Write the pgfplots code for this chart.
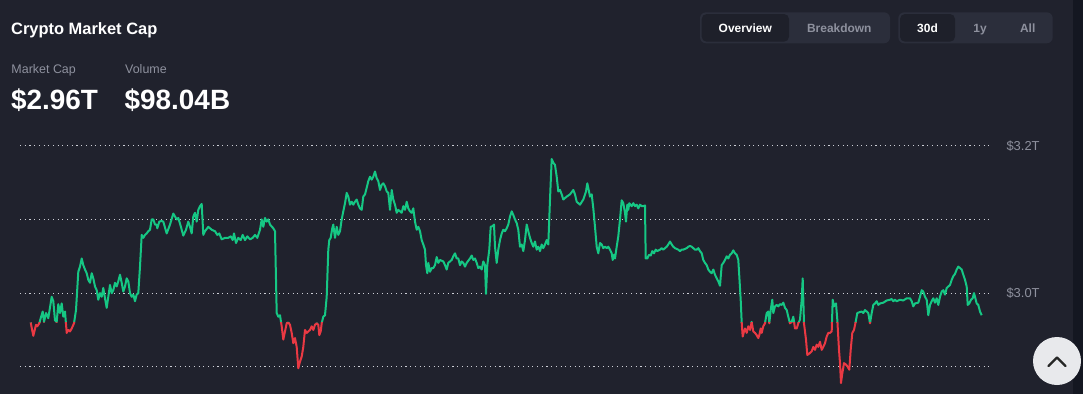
\documentclass[border=0pt]{standalone}
\usepackage{pgfplots}
\pgfplotsset{compat=1.18}
\usepackage{pgfplotstable}
\usepackage{fontspec}
\setmainfont{Liberation Sans}
\definecolor{bgc}{RGB}{32,34,45}
\definecolor{stripc}{RGB}{20,23,33}
\definecolor{btnouter}{RGB}{43,46,59}
\definecolor{btninner}{RGB}{30,32,42}
\definecolor{graytxt}{RGB}{142,145,158}
\definecolor{gridc}{RGB}{205,207,214}
\definecolor{upc}{RGB}{22,199,132}
\definecolor{downc}{RGB}{234,57,67}
\definecolor{circc}{RGB}{232,233,236}

\pgfplotstableread{
x y
30.7 2.960
33.3 2.942
36.0 2.957
37.3 2.955
39.3 2.959
40.7 2.966
42.7 2.975
44.0 2.961
46.0 2.973
48.3 2.966
51.7 2.995
53.3 2.989
55.0 2.963
56.7 2.961
58.3 2.985
60.0 2.973
61.7 2.986
63.3 2.968
65.0 2.975
66.7 2.946
68.3 2.950
70.0 2.948
71.7 2.952
74.0 2.959
76.0 2.977
78.3 3.029
80.0 3.036
81.7 3.047
83.3 3.038
85.0 3.032
86.7 3.027
88.3 3.018
90.0 3.014
91.7 3.027
93.3 3.020
95.0 3.009
96.7 3.004
98.3 2.991
100.0 3.000
101.7 2.995
103.3 3.007
105.0 2.993
106.7 2.980
108.3 2.995
110.0 3.011
111.7 3.000
113.3 3.004
115.0 3.014
116.7 3.009
118.3 3.016
120.0 3.025
121.7 3.014
123.3 3.002
125.0 3.009
126.7 3.020
128.3 3.016
130.0 3.000
131.7 2.995
133.3 2.998
135.0 2.989
136.7 2.998
138.3 3.000
140.0 3.036
141.7 3.079
143.3 3.075
145.0 3.079
146.7 3.081
148.3 3.084
150.0 3.086
151.7 3.100
153.3 3.100
155.0 3.093
156.7 3.093
157.3 3.088
159.3 3.097
161.7 3.098
163.3 3.097
166.7 3.081
170.0 3.093
173.3 3.108
176.7 3.100
178.3 3.102
180.7 3.091
183.3 3.078
186.0 3.086
188.3 3.097
190.0 3.090
191.7 3.081
193.3 3.104
195.0 3.109
196.7 3.097
198.3 3.113
200.0 3.118
201.7 3.121
203.3 3.079
205.0 3.084
208.3 3.090
211.7 3.086
215.0 3.084
217.3 3.079
219.3 3.081
221.7 3.073
225.0 3.075
228.3 3.075
230.7 3.077
232.7 3.072
234.0 3.081
236.0 3.068
238.3 3.075
240.7 3.072
242.7 3.079
245.0 3.072
247.3 3.077
250.0 3.073
252.7 3.075
255.0 3.079
257.3 3.075
260.0 3.086
261.7 3.100
263.3 3.090
265.0 3.102
266.7 3.097
268.3 3.100
270.0 3.093
273.3 3.088
275.0 3.084
276.7 2.973
278.3 2.968
280.0 2.970
281.7 2.955
283.3 2.937
285.0 2.948
286.7 2.959
288.3 2.960
290.0 2.957
291.7 2.946
293.3 2.932
295.0 2.939
296.7 2.927
298.3 2.898
300.0 2.907
301.7 2.914
303.3 2.927
305.0 2.950
306.7 2.946
308.3 2.948
310.0 2.950
311.7 2.955
313.3 2.950
315.0 2.957
316.7 2.959
318.3 2.957
319.3 2.943
320.7 2.948
321.7 2.959
323.3 2.968
325.0 2.970
326.7 2.995
328.3 3.059
329.3 3.072
330.7 3.075
332.3 3.088
333.3 3.093
335.0 3.075
336.7 3.090
338.3 3.079
340.0 3.084
341.7 3.100
343.3 3.111
345.0 3.122
346.7 3.136
348.3 3.131
350.0 3.120
351.7 3.124
353.3 3.120
355.0 3.124
356.7 3.127
358.3 3.120
360.0 3.115
361.7 3.113
363.3 3.131
365.0 3.134
366.7 3.143
368.3 3.152
370.0 3.158
371.7 3.154
373.3 3.158
375.0 3.165
376.7 3.156
378.3 3.152
380.0 3.140
381.7 3.147
383.3 3.149
385.0 3.145
386.7 3.138
388.3 3.136
390.0 3.113
391.7 3.140
393.3 3.127
395.0 3.120
396.7 3.109
398.3 3.113
400.0 3.111
401.7 3.109
403.3 3.118
405.0 3.113
406.7 3.124
408.3 3.115
410.0 3.111
411.7 3.109
413.3 3.115
415.0 3.097
416.7 3.086
418.3 3.090
420.0 3.084
421.7 3.072
423.3 3.066
425.0 3.059
426.0 3.038
427.3 3.027
428.3 3.041
430.0 3.029
431.7 3.034
433.3 3.034
435.0 3.038
436.7 3.049
438.3 3.041
440.0 3.045
443.3 3.043
445.0 3.038
446.7 3.032
448.3 3.041
451.7 3.045
453.3 3.050
455.0 3.054
456.7 3.047
458.3 3.047
460.0 3.038
461.7 3.043
463.3 3.041
465.0 3.036
466.7 3.041
470.0 3.047
471.7 3.051
473.3 3.045
475.0 3.047
476.7 3.041
478.3 3.034
480.0 3.036
481.7 3.032
483.3 3.043
485.0 3.038
486.0 2.999
487.3 3.038
489.3 3.059
490.7 3.090
492.7 3.091
494.0 3.093
495.0 3.063
496.7 3.041
498.3 3.059
500.0 3.072
501.7 3.081
503.3 3.086
505.0 3.084
506.7 3.088
508.3 3.093
510.0 3.104
511.7 3.111
513.3 3.106
515.0 3.100
516.7 3.095
518.3 3.086
520.0 3.063
521.7 3.066
523.3 3.057
525.0 3.072
526.7 3.093
528.3 3.084
530.0 3.075
531.7 3.068
533.3 3.063
535.0 3.070
536.7 3.059
538.3 3.063
540.0 3.057
541.7 3.066
543.3 3.061
545.0 3.066
546.7 3.072
548.3 3.066
550.0 3.127
551.7 3.182
553.3 3.177
555.0 3.174
556.7 3.158
558.3 3.138
560.0 3.140
561.7 3.134
563.3 3.127
566.7 3.131
570.0 3.134
573.3 3.140
575.0 3.134
576.7 3.124
580.0 3.120
583.3 3.127
586.0 3.138
587.3 3.149
589.0 3.138
590.0 3.131
591.7 3.134
593.3 3.115
595.0 3.090
596.7 3.063
598.3 3.054
600.0 3.068
601.7 3.066
603.3 3.061
605.0 3.063
606.7 3.061
608.3 3.063
610.0 3.059
611.7 3.054
612.7 3.045
614.0 3.052
615.0 3.047
616.7 3.063
618.3 3.077
620.0 3.100
621.7 3.126
623.3 3.122
625.0 3.109
626.0 3.097
627.3 3.120
628.3 3.113
629.3 3.122
631.7 3.118
633.3 3.122
635.0 3.118
636.7 3.120
638.3 3.115
640.0 3.120
641.7 3.118
643.3 3.118
645.0 3.119
645.7 3.047
647.3 3.047
649.0 3.052
650.7 3.051
652.3 3.057
654.0 3.054
655.7 3.059
657.3 3.057
660.0 3.059
661.7 3.061
663.3 3.059
665.0 3.061
666.7 3.063
668.3 3.066
670.0 3.070
671.7 3.066
673.3 3.063
675.0 3.061
676.7 3.060
678.3 3.059
680.0 3.057
681.7 3.059
683.3 3.059
685.0 3.060
686.7 3.061
688.3 3.063
690.0 3.064
691.7 3.063
693.3 3.061
695.0 3.059
696.7 3.059
698.3 3.061
700.0 3.057
701.7 3.054
703.3 3.045
705.0 3.041
706.7 3.038
708.3 3.032
710.0 3.029
711.7 3.027
713.3 3.032
715.0 3.025
716.7 3.020
718.3 3.016
720.0 3.010
721.7 3.038
723.3 3.041
725.0 3.045
726.7 3.050
728.3 3.047
730.0 3.052
731.7 3.054
733.3 3.058
735.0 3.054
736.7 3.052
738.3 3.045
739.3 3.023
740.7 2.991
741.7 2.960
742.7 2.941
744.0 2.948
745.0 2.952
746.7 2.946
748.3 2.955
750.0 2.950
751.7 2.961
753.3 2.948
755.0 2.946
756.7 2.943
758.3 2.939
759.3 2.943
760.7 2.952
761.7 2.946
763.3 2.955
765.0 2.959
766.7 2.973
768.3 2.975
769.3 2.959
770.7 2.977
772.3 2.991
773.3 2.973
775.0 2.982
776.7 2.984
778.3 2.982
780.0 2.985
781.7 2.984
783.3 2.987
785.0 2.980
786.7 2.977
788.3 2.968
790.0 2.959
791.7 2.961
793.3 2.968
795.0 2.952
796.7 2.952
798.3 2.959
800.0 2.964
801.7 2.991
802.7 3.020
804.0 2.959
806.0 2.937
807.3 2.916
809.3 2.918
811.7 2.921
813.3 2.927
815.0 2.923
816.7 2.930
818.3 2.927
820.0 2.934
821.7 2.923
823.3 2.927
825.0 2.932
826.7 2.941
828.3 2.946
830.0 2.946
831.7 2.948
832.7 2.991
834.0 2.982
836.0 2.986
837.3 2.964
839.0 2.923
840.0 2.905
841.0 2.878
842.3 2.891
844.0 2.905
846.0 2.903
847.7 2.900
849.3 2.896
850.7 2.923
852.3 2.946
854.0 2.950
855.7 2.961
857.3 2.973
859.3 2.974
861.7 2.975
863.3 2.973
865.0 2.977
866.7 2.975
868.3 2.973
870.0 2.959
871.7 2.973
873.3 2.984
875.0 2.986
876.7 2.989
878.3 2.984
880.0 2.986
883.3 2.987
886.7 2.990
890.0 2.991
891.7 2.992
893.3 2.989
895.0 2.991
896.7 2.989
900.0 2.991
903.3 2.990
906.7 2.993
910.0 2.993
911.7 2.989
913.3 2.982
915.0 2.986
918.3 2.987
920.0 2.995
921.7 3.004
923.3 3.002
925.0 2.995
926.7 2.991
928.3 2.970
930.0 2.984
931.7 2.989
933.3 2.993
935.0 2.987
936.7 2.993
938.3 2.984
940.0 2.995
941.7 3.002
943.3 3.004
945.0 2.998
946.7 3.007
948.3 3.009
950.0 3.011
951.7 3.018
953.3 3.023
955.0 3.026
956.7 3.032
958.3 3.036
960.0 3.034
961.7 3.032
963.3 3.025
965.0 3.018
966.7 3.009
967.7 2.984
969.3 2.986
971.0 2.991
972.7 2.993
974.0 3.000
975.0 2.995
976.7 2.986
978.3 2.984
980.0 2.975
981.7 2.970
}\mcap

\begin{document}
\begin{tikzpicture}
\useasboundingbox (0,0) rectangle (1083bp,-394bp);
\fill[bgc] (0,0) rectangle (1083bp,-394bp);
\fill[stripc] (1073bp,0) rectangle (1083bp,-394bp);

% header texts
\node[anchor=base west, inner sep=0, text=white, font=\fontsize{16.5}{19}\selectfont\bfseries] at (11bp,-34.3bp) {Crypto Market Cap};
\node[anchor=base west, inner sep=0, text=graytxt, font=\fontsize{12.5}{15}\selectfont] at (11.3bp,-73.7bp) {Market Cap};
\node[anchor=base west, inner sep=0, text=graytxt, font=\fontsize{12.5}{15}\selectfont] at (125bp,-73.7bp) {Volume};
\node[anchor=base west, inner sep=0, text=white, font=\fontsize{28}{32}\selectfont\bfseries] at (11bp,-109bp) {\$2.96T};
\node[anchor=base west, inner sep=0, text=white, font=\fontsize{28}{32}\selectfont\bfseries] at (124.5bp,-109bp) {\$98.04B};

% buttons
\fill[btnouter, rounded corners=6bp] (700bp,-12.3bp) rectangle (890bp,-43.3bp);
\fill[btninner, rounded corners=5bp] (701.7bp,-14bp) rectangle (789bp,-41.7bp);
\fill[btnouter, rounded corners=6bp] (898.3bp,-12.3bp) rectangle (1052.7bp,-43.3bp);
\fill[btninner, rounded corners=5bp] (900bp,-14bp) rectangle (955bp,-41.7bp);
\node[anchor=base, inner sep=0, text=white, font=\fontsize{12}{14}\selectfont\bfseries] at (745.3bp,-32bp) {Overview};
\node[anchor=base, inner sep=0, text=graytxt, font=\fontsize{12}{14}\selectfont\bfseries] at (839.3bp,-32bp) {Breakdown};
\node[anchor=base, inner sep=0, text=white, font=\fontsize{12}{14}\selectfont\bfseries] at (927.5bp,-32bp) {30d};
\node[anchor=base, inner sep=0, text=graytxt, font=\fontsize{12}{14}\selectfont\bfseries] at (980bp,-32bp) {1y};
\node[anchor=base, inner sep=0, text=graytxt, font=\fontsize{12}{14}\selectfont\bfseries] at (1027.7bp,-32bp) {All};

\begin{axis}[
  at={(20bp,-388.9bp)}, anchor=south west,
  scale only axis, width=970bp, height=257.9bp,
  xmin=20, xmax=990, ymin=2.87, ymax=3.22,
  axis line style={draw=none},
  xtick=\empty,
  ytick={2.9,3.0,3.1,3.2},
  yticklabels={,\$3.0T,,\$3.2T},
  yticklabel pos=right,
  major tick length=0pt,
  tick style={draw=none},
  yticklabel style={anchor=west, xshift=13bp, text=graytxt, font=\fontsize{13}{15}\selectfont},
  ymajorgrids,
  grid style={gridc, line width=1bp, dash pattern=on 1.1bp off 3.6bp},
]
\begin{scope}
\clip (axis cs:0,2.960) rectangle (axis cs:1100,3.5);
\addplot[upc, line width=2bp, line join=round] table[x=x,y=y] {\mcap};
\end{scope}
\begin{scope}
\clip (axis cs:0,2.960) rectangle (axis cs:1100,2.5);
\addplot[downc, line width=2bp, line join=round] table[x=x,y=y] {\mcap};
\end{scope}
\end{axis}

% scroll-to-top button
\fill[circc] (1057bp,-361bp) circle (24bp);
\draw[black!85, line width=2.2bp, line cap=round, line join=round] (1048.5bp,-366bp) -- (1057bp,-357.5bp) -- (1065.5bp,-366bp);
\end{tikzpicture}
\end{document}
